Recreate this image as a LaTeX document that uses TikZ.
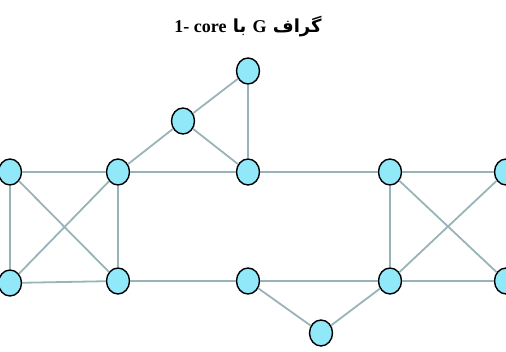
\documentclass[tikz,border=0pt]{standalone}
\usepackage{fontspec}
\setmainfont{Liberation Serif}
\newfontfamily\arabicfont[Script=Arabic]{DejaVu Sans}
\TeXXeTstate=1
\usepackage{tikz}
\usetikzlibrary{shapes.geometric}

\definecolor{vfill}{RGB}{145,232,248}
\definecolor{edgec}{RGB}{152,180,184}

\begin{document}
\begin{tikzpicture}[x=1pt,y=-1pt,
    vertex/.style={ellipse, draw=black, line width=1.4pt, fill=vfill,
        minimum width=23pt, minimum height=26pt, inner sep=0pt},
    link/.style={draw=edgec, line width=1.8pt}]
    \useasboundingbox (0,0) rectangle (506,352);

    % Title
    \node[font=\bfseries\fontsize{18}{21}\selectfont] (title) at (248,27)
        {\arabicfont\beginR گراف \beginL{\rmfamily G}\endL{} با \beginL{\rmfamily 1- core}\endL\endR};

    % Vertices: name / x / y
    \foreach \v/\x/\y in {
        lt/10/172, lm/118/172, lb/10/283, lr/118/281,
        top/248/71, tri/183/121, mid/248/172,
        bm/248/281, bot/321/333,
        rt/390/172, rr/506/172, rb/390/281, rbr/506/281} {
        \node[vertex] (\v) at (\x,\y) {};
    }

    % Edges
    \foreach \a/\b in {
        lt/lm, lt/lb, lt/lr, lm/lb, lm/lr, lb/lr,
        lm/tri, lm/mid, tri/top, tri/mid, top/mid,
        mid/rt, lr/bm, bm/rb, bm/bot, bot/rb,
        rt/rr, rt/rb, rt/rbr, rb/rr, rb/rbr} {
        \draw[link] (\a) -- (\b);
    }
\end{tikzpicture}
\end{document}
